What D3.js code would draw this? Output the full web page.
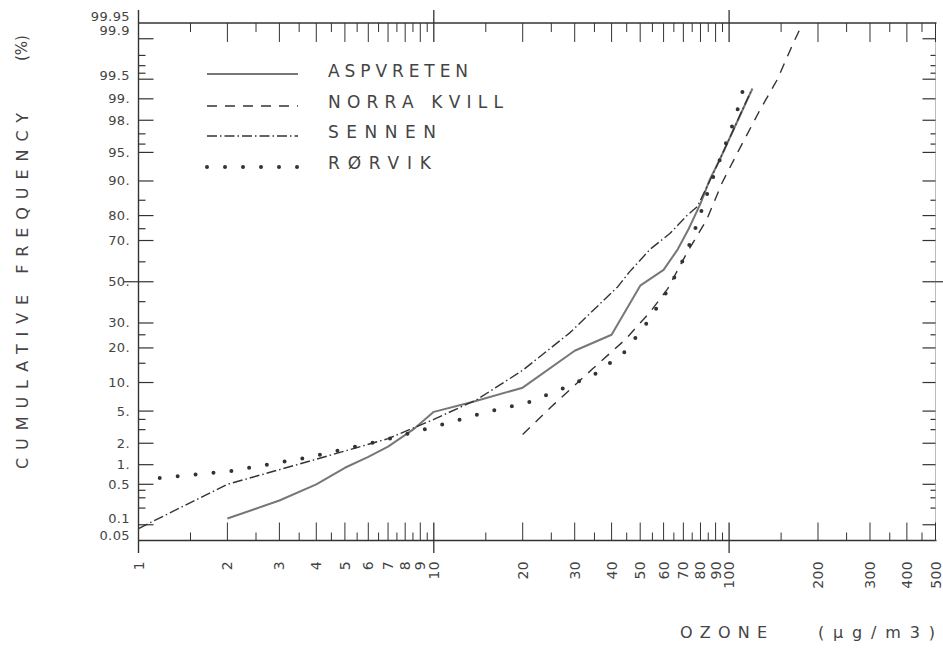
<!DOCTYPE html>
<html><head><meta charset="utf-8">
<script src="https://cdn.jsdelivr.net/npm/d3@7/dist/d3.min.js"></script>
<style>
body{margin:0;background:#fff;}
svg{display:block;}
text{font-family:"DejaVu Sans","Liberation Sans",sans-serif;font-weight:400;fill:#444;}
</style></head><body>
<svg id="c" width="943" height="659"></svg>
<script>
// ---------------- data ----------------
const seriesNames = ["ASPVRETEN","NORRA KVILL","SENNEN","RØRVIK"];

const aspvretenOzone = [2,3,4,5,6,7,8.5,10,13.5,20,30,40,50,60,67,73,80,86,93,100,120];
const aspvretenFreq  = [0.13,0.27,0.5,0.9,1.3,1.8,3.0,4.9,6.3,8.9,19,25,48,56,66,75,84,90.3,94,96.5,99.3];

const norraOzone = [20,25,34.5,44.4,54,62,72,84,94.7,109,127.4,145.5,165,175];
const norraFreq  = [2.6,5.6,13.4,23,35,46.5,64.4,78.5,89.6,95.6,98.57,99.49,99.88,99.94];

const sennenOzone = [1,2,4,7,10,14,20,29,42,46,54,63,72,78,86,93,100,118];
const sennenFreq  = [0.085,0.5,1.2,2.3,4.0,6.7,13,26,47.5,55,66,73,80,83,90,94,96.5,99.2];

const rorvikOzone = [1.18,2.08,3.7,6.6,10,15.2,20.8,27.3,35.7,44.4,53.6,63,71.5,78.5,86.2,96.2,105.6,114];
const rorvikFreq  = [0.63,0.81,1.26,2.15,3.25,4.9,6.2,8.7,12.3,18.7,31.4,47.5,63.9,78,89,95.5,98.3,99.5];

const xLabelTicks = [1,2,3,4,5,6,7,8,9,10,20,30,40,50,60,70,80,90,100,200,300,400,500];
const xMajorTicks = [2,3,4,5,6,7,8,9,20,30,40,50,60,70,80,90,200,300,400,500];
const xMinorTicks = [1.5,2.5,3.5,4.5,5.5,6.5,7.5,8.5,9.5,15,25,35,45,55,65,75,85,95,150,250,350,450];
const xDecadeTicks = [10,100];

const yLabelTicks = [99.95,99.9,99.5,99,98,95,90,80,70,50,30,20,10,5,2,1,0.5,0.1,0.05];
const yLabelText  = ["99.95","99.9","99.5","99.","98.","95.","90.","80.","70.","50.","30.","20.","10.","5.","2.","1.","0.5","0.1","0.05"];
const yMinorTicks = [99.8,99.7,99.6,97,96,85,75,60,40,25,15,4,3,0.4,0.3,0.2];

// ---------------- helpers ----------------
function probit(p){
  const a=[-3.969683028665376e+01,2.209460984245205e+02,-2.759285104469687e+02,1.383577518672690e+02,-3.066479806614716e+01,2.506628277459239e+00];
  const b=[-5.447609879822406e+01,1.615858368580409e+02,-1.556989798598866e+02,6.680131188771972e+01,-1.328068155288572e+01];
  const c=[-7.784894002430293e-03,-3.223964580411365e-01,-2.400758277161838e+00,-2.549671010029135e+00,4.374664141464968e+00,2.938163982698783e+00];
  const d=[7.784695709041462e-03,3.224671290700398e-01,2.445134137142996e+00,3.754408661907416e+00];
  const pl=0.02425, ph=1-pl; let q,r;
  if(p<pl){q=Math.sqrt(-2*Math.log(p));return (((((c[0]*q+c[1])*q+c[2])*q+c[3])*q+c[4])*q+c[5])/((((d[0]*q+d[1])*q+d[2])*q+d[3])*q+1);}
  if(p<=ph){q=p-0.5;r=q*q;return (((((a[0]*r+a[1])*r+a[2])*r+a[3])*r+a[4])*r+a[5])*q/(((((b[0]*r+b[1])*r+b[2])*r+b[3])*r+b[4])*r+1);}
  q=Math.sqrt(-2*Math.log(1-p));return -(((((c[0]*q+c[1])*q+c[2])*q+c[3])*q+c[4])*q+c[5])/((((d[0]*q+d[1])*q+d[2])*q+d[3])*q+1);
}

const svg = d3.select("#c");
const x = d3.scaleLog().domain([1,500]).range([138.5,935.5]);
const zScale = d3.scaleLinear().domain([probit(0.0005),probit(0.9995)]).range([540.5,23]);
const y = p => zScale(probit(p/100));

const L = x.range()[0], R = x.range()[1], T = zScale.range()[1], B = zScale.range()[0];
const axisColor = "#333";

// frame lines
const g = svg.append("g").attr("stroke",axisColor).attr("fill","none");
g.append("line").attr("x1",L).attr("x2",L).attr("y1",10).attr("y2",553).attr("stroke-width",1.4);
g.append("line").attr("x1",L).attr("x2",R+1).attr("y1",B).attr("y2",B).attr("stroke-width",1.4);
g.append("line").attr("x1",L).attr("x2",R+1).attr("y1",T).attr("y2",T).attr("stroke-width",1.4);
g.append("line").attr("x1",R).attr("x2",R).attr("y1",T).attr("y2",B).attr("stroke","#aaa").attr("stroke-width",0.8);

// x ticks (top and bottom)
function xTicks(vals, len){
  g.selectAll(null).data(vals).join("line")
    .attr("x1",d=>x(d)).attr("x2",d=>x(d)).attr("y1",B).attr("y2",B-len).attr("stroke-width",1);
  g.selectAll(null).data(vals).join("line")
    .attr("x1",d=>x(d)).attr("x2",d=>x(d)).attr("y1",T).attr("y2",T+len+1).attr("stroke-width",1);
}
xTicks(xMajorTicks,18);
xTicks(xMinorTicks,8);
g.selectAll(null).data(xDecadeTicks).join("line")
  .attr("x1",d=>x(d)).attr("x2",d=>x(d)).attr("y1",B-18).attr("y2",553).attr("stroke-width",1.3);
g.selectAll(null).data(xDecadeTicks).join("line")
  .attr("x1",d=>x(d)).attr("x2",d=>x(d)).attr("y1",10).attr("y2",T+19).attr("stroke-width",1.3);

// y ticks (left and right)
function yTicks(vals, lenL, lenR){
  g.selectAll(null).data(vals).join("line")
    .attr("x1",L).attr("x2",L+lenL).attr("y1",d=>y(d)).attr("y2",d=>y(d)).attr("stroke-width",1.2);
  g.selectAll(null).data(vals).join("line")
    .attr("x1",R).attr("x2",R-lenR).attr("y1",d=>y(d)).attr("y2",d=>y(d)).attr("stroke-width",1.2);
}
yTicks(yLabelTicks.filter(v=>v!==99.95 && v!==0.05),15,13);
yTicks(yMinorTicks,7,5);
g.append("line").attr("x1",L-15).attr("x2",L).attr("y1",y(50)).attr("y2",y(50)).attr("stroke-width",1.2);
g.append("line").attr("x1",R).attr("x2",R+8).attr("y1",y(50)).attr("y2",y(50)).attr("stroke-width",1.2);

// y labels
const yNudge = {"99.95":-7,"99.9":-8,"99.5":-4,"0.1":-6,"0.05":-5};
svg.append("g").selectAll("text").data(yLabelTicks).join("text")
  .attr("x",130).attr("y",(d,i)=>y(d)+(yNudge[yLabelText[i]]||0))
  .attr("text-anchor","end").attr("dominant-baseline","central")
  .attr("font-size",13).attr("letter-spacing",0.4)
  .text((d,i)=>yLabelText[i]);

// x labels
svg.append("g").selectAll("text").data(xLabelTicks).join("text")
  .attr("transform",d=>`translate(${x(d)},561) rotate(-90)`)
  .attr("text-anchor","end").attr("dominant-baseline","central")
  .attr("font-size",14).attr("letter-spacing",0.3)
  .text(d=>d);

// axis titles
svg.append("text").attr("transform","translate(22,291) rotate(-90)")
  .attr("text-anchor","middle").attr("dominant-baseline","central")
  .attr("font-size",16).attr("textLength",356).attr("lengthAdjust","spacing")
  .text("CUMULATIVE FREQUENCY");
svg.append("text").attr("transform","translate(22,48) rotate(-90)")
  .attr("text-anchor","middle").attr("dominant-baseline","central")
  .attr("font-size",15).text("(%)");
svg.append("text").attr("x",680).attr("y",632).attr("dominant-baseline","central")
  .attr("font-size",16).attr("textLength",87).attr("lengthAdjust","spacing").text("OZONE");
svg.append("text").attr("x",818).attr("y",632).attr("dominant-baseline","central")
  .attr("font-size",16).attr("textLength",117).attr("lengthAdjust","spacing").text("(µg/m3)");

// series
const styles = [
  {ozone:aspvretenOzone,freq:aspvretenFreq,stroke:"#777",w:2,dash:null,cap:"butt"},
  {ozone:norraOzone,freq:norraFreq,stroke:"#333",w:1.4,dash:"10,8",cap:"butt"},
  {ozone:sennenOzone,freq:sennenFreq,stroke:"#333",w:1.4,dash:"10,3,1.5,3",cap:"butt"},
  {ozone:rorvikOzone,freq:rorvikFreq,stroke:"#333",w:4,dash:"0,18",cap:"round"}
];
const line = d3.line().x(d=>x(d[0])).y(d=>y(d[1]));
svg.append("g").selectAll("path").data(styles).join("path")
  .attr("d",s=>line(s.ozone.map((o,i)=>[o,s.freq[i]])))
  .attr("fill","none").attr("stroke",s=>s.stroke).attr("stroke-width",s=>s.w)
  .attr("stroke-dasharray",s=>s.dash).attr("stroke-linecap",s=>s.cap).attr("stroke-linejoin","round");

// legend
const legY = [74,106,136,167];
const legTextY = [71,102,132,163];
const lg = svg.append("g");
lg.selectAll("line").data(styles).join("line")
  .attr("x1",207).attr("x2",298).attr("y1",(d,i)=>legY[i]).attr("y2",(d,i)=>legY[i])
  .attr("stroke",s=>s.stroke).attr("stroke-width",s=>s.w)
  .attr("stroke-dasharray",s=>s.dash).attr("stroke-linecap",s=>s.cap);
const legWidths = [140,175,108,103];
lg.selectAll("text").data(seriesNames).join("text")
  .attr("x",328).attr("y",(d,i)=>legTextY[i]).attr("dominant-baseline","central")
  .attr("font-size",17).attr("textLength",(d,i)=>legWidths[i]).attr("lengthAdjust","spacing")
  .text(d=>d);
</script>
</body></html>
